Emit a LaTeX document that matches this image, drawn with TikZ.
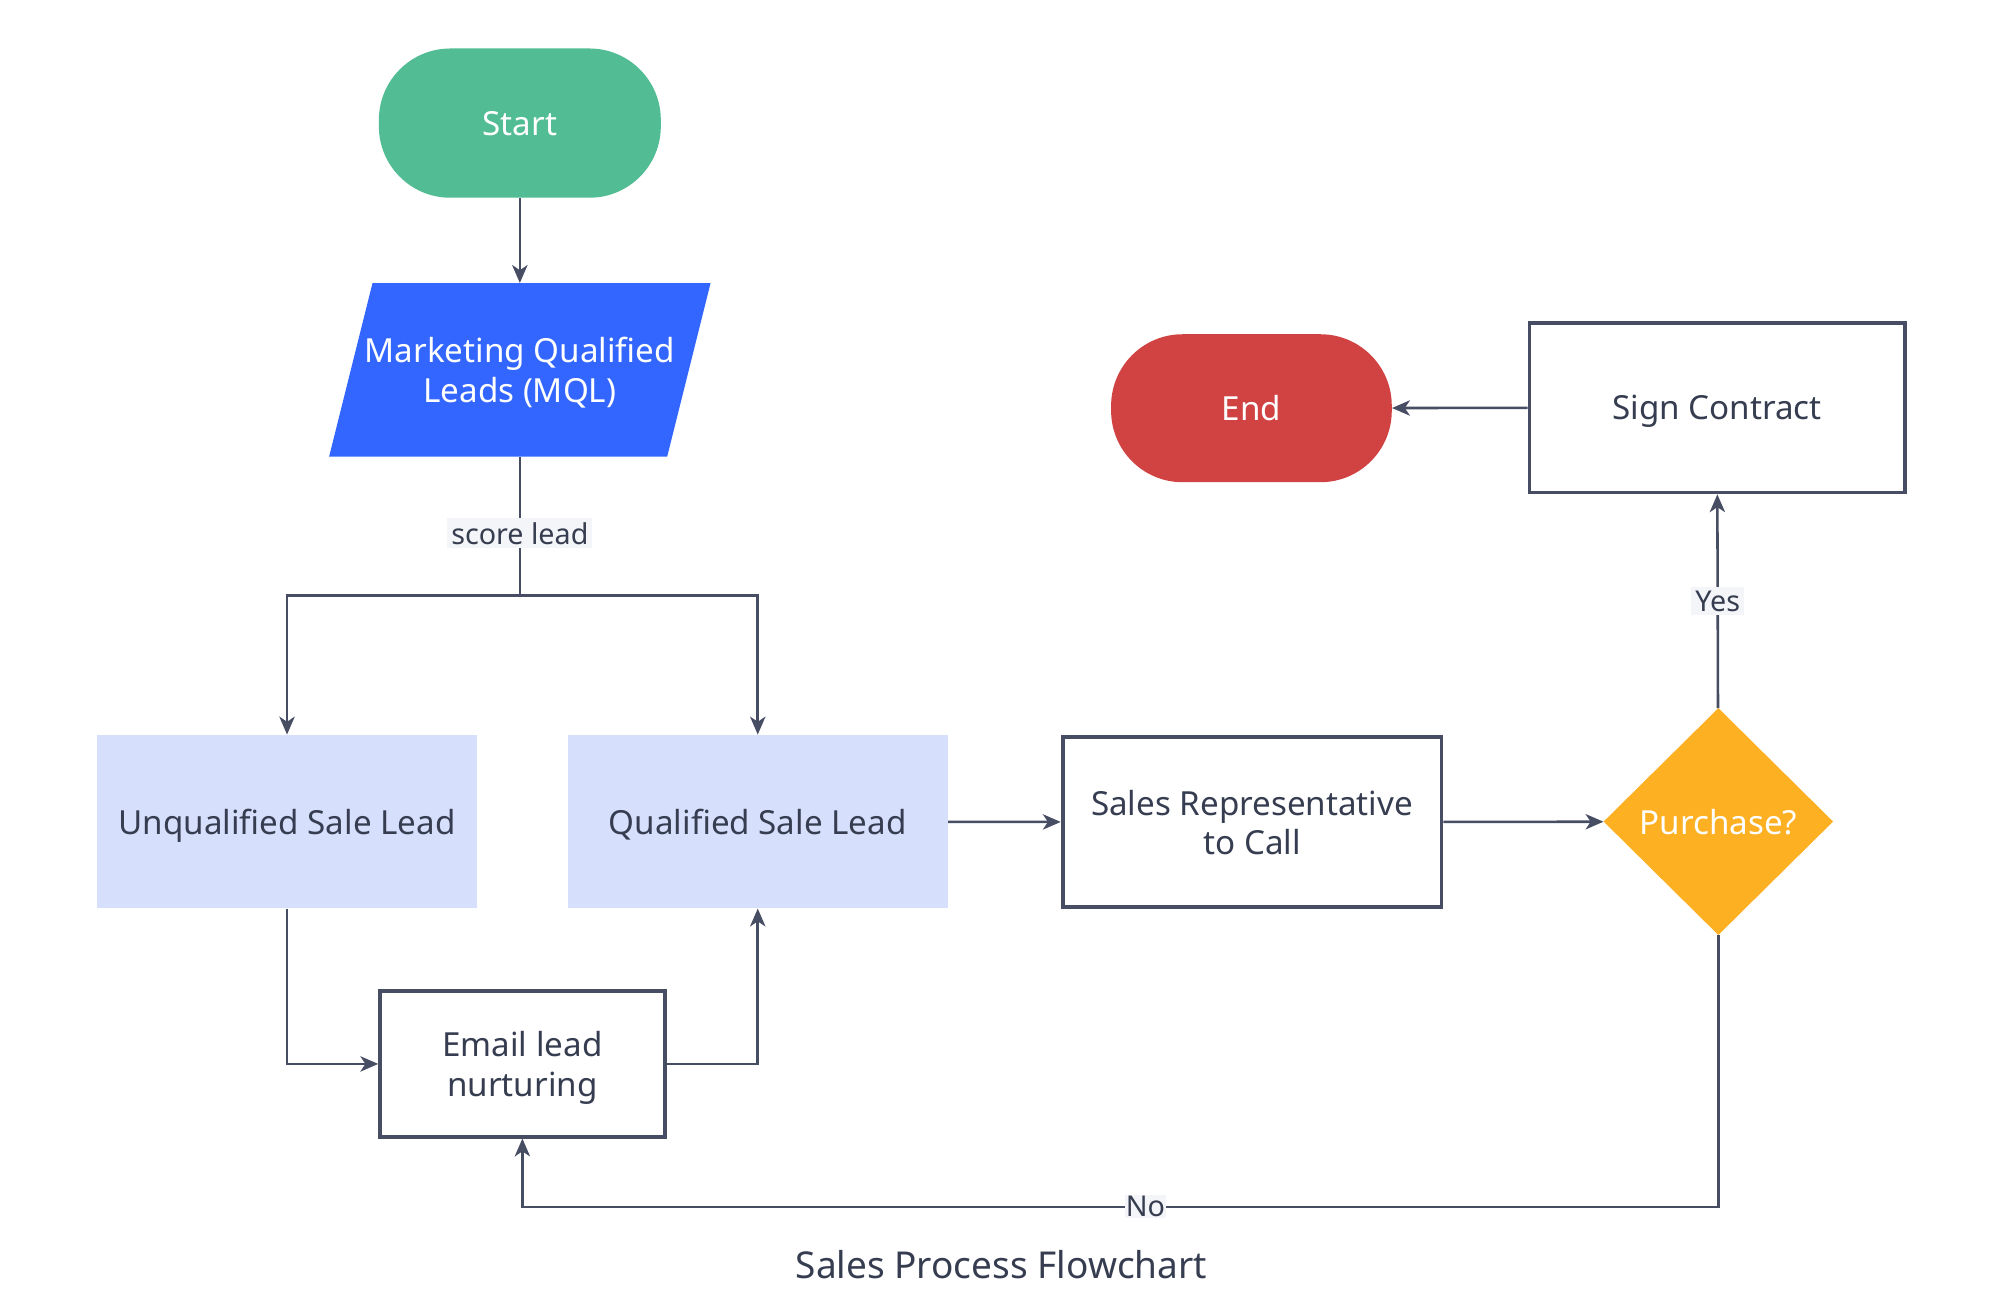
\documentclass[tikz,border=0pt]{standalone}
\usepackage{fontspec}
\setmainfont{Noto Sans}
\usetikzlibrary{arrows.meta,shapes.geometric,calc}
\definecolor{lineC}{HTML}{474D62}
\definecolor{txtC}{HTML}{363D50}
\definecolor{startC}{HTML}{52BD94}
\definecolor{mqlC}{HTML}{3366FF}
\definecolor{leadC}{HTML}{D6E0FD}
\definecolor{purC}{HTML}{FDB022}
\definecolor{endC}{HTML}{D14343}
\definecolor{lblbg}{HTML}{F4F5F8}
\tikzset{
  maintxt/.style={font=\fontsize{26}{31}\selectfont, align=center, text depth=0pt},
  terminal/.style={maintxt, rounded corners=56pt, text=white, inner sep=0pt},
  plainbox/.style={maintxt, draw=lineC, line width=3pt, fill=white, text=txtC, inner sep=0pt},
  leadbox/.style={maintxt, fill=leadC, text=txtC, inner sep=0pt},
  conn/.style={draw=lineC, line width=2pt},
  arr/.style={conn, -{Stealth[length=14pt,width=12pt,inset=4pt]}},
  lbl/.style={font=\fontsize{22.5}{26}\selectfont, text=txtC, fill=lblbg, inner sep=3pt},
}
\begin{document}
\begin{tikzpicture}[x=1pt,y=-1pt]
\useasboundingbox[fill=white] (0,0) rectangle (1567,1031.6);

% nodes
\node[terminal, fill=startC, minimum width=221pt, minimum height=117pt] (start) at (407.5,96.5) {Start};
\fill[mqlC] (292,222) -- (557,222) -- (523,358) -- (258,358) -- cycle;
\node[maintxt, text=white, minimum width=265pt, minimum height=136pt, inner sep=0pt] (mql) at (407.5,290) {Marketing Qualified\\Leads (MQL)};
\node[leadbox, minimum width=298pt, minimum height=136pt] (unq) at (225,644) {Unqualified Sale Lead};
\node[leadbox, minimum width=298pt, minimum height=136pt] (qual) at (594,644) {Qualified Sale Lead};
\node[plainbox, minimum width=297pt, minimum height=133pt] (rep) at (981.5,644.5) {Sales Representative\\to Call};
\node[diamond, aspect=1, fill=purC, text=white, inner sep=0pt, maintxt, minimum width=180pt, minimum height=178pt] (pur) at (1347,644) {Purchase?};
\node[plainbox, minimum width=294pt, minimum height=133pt] (sign) at (1346,319.5) {Sign Contract};
\node[terminal, fill=endC, minimum width=220pt, minimum height=116pt] (end) at (981,320) {End};
\node[plainbox, minimum width=223pt, minimum height=114pt] (email) at (409.5,834) {Email lead\\nurturing};
\node[font=\fontsize{29}{34}\selectfont, text=txtC] (cap) at (785,991) {Sales Process Flowchart};

\coordinate (split) at (407.5,467);
\coordinate (nob) at (1347,946);

% connectors
\draw[arr] (start) -- (mql);
\draw[conn] (mql.south) -- node[lbl, pos=0.55] {score lead} (split);
\draw[arr] (split) -| (unq.north);
\draw[arr] (split) -| (qual.north);
\draw[arr] (qual) -- (rep);
\draw[arr] (rep) -- (pur);
\draw[arr] (pur) -- node[lbl] {Yes} (sign);
\draw[arr] (sign) -- (end);
\draw[arr] (unq.south) |- (email.west);
\draw[arr] (email.east) -| (qual.south);
\draw[arr] (pur.south) -- (nob) -- node[lbl, pos=0.479, inner sep=1pt] {No} (email.south |- nob) -- (email.south);
\end{tikzpicture}
\end{document}
